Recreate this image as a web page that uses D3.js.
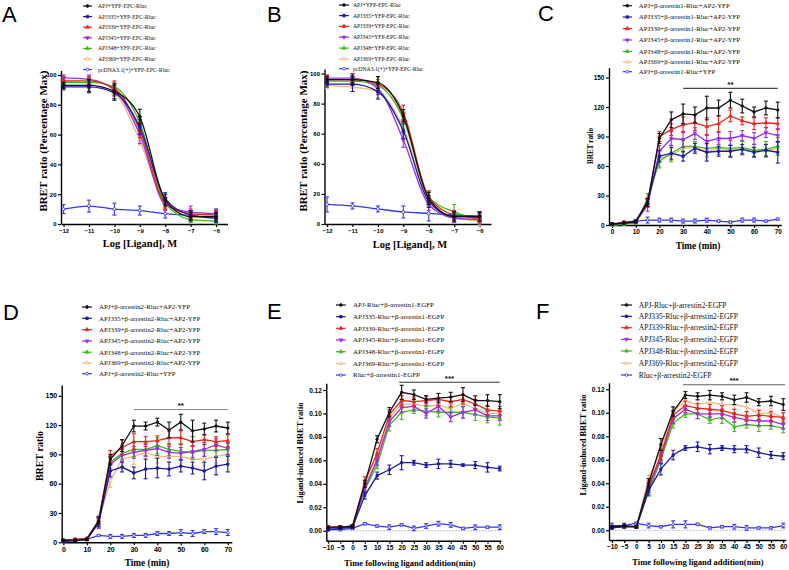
<!DOCTYPE html>
<html><head><meta charset="utf-8">
<script src="https://cdn.jsdelivr.net/npm/d3@7"></script>
<style>body{margin:0;background:#fff}svg{display:block}</style>
</head><body>
<svg id="c" width="789" height="570"></svg>
<script>
// ---------------- DATA ----------------
const seriesColors = ["#111111","#1c1ca0","#e8251f","#9a2ee6","#3dba20","#e9b883","#3535f5"];
const seriesShapes = ["circle","square","triangle","triangleDown","triangle","triangleOpen","circleOpen"];

const logLigand = [-12,-11,-10,-9,-8,-7,-6];
const timeCD = [0,5,10,15,20,25,30,35,40,45,50,55,60,65,70];
const timeEF = [-10,-5,0,5,10,15,20,25,30,35,40,45,50,55,60];

const legendA = ["APJ+YFP-EPC-Rluc","APJ335+YFP-EPC-Rluc","APJ339+YFP-EPC-Rluc","APJ345+YFP-EPC-Rluc","APJ348+YFP-EPC-Rluc","APJ369+YFP-EPC-Rluc","pcDNA3.1(+)+YFP-EPC-Rluc"];
const legendB = legendA.slice();
const legendC = ["APJ+β-arrestin1-Rluc+AP2-YFP","APJ335+β-arrestin1-Rluc+AP2-YFP","APJ339+β-arrestin1-Rluc+AP2-YFP","APJ345+β-arrestin1-Rluc+AP2-YFP","APJ348+β-arrestin1-Rluc+AP2-YFP","APJ369+β-arrestin1-Rluc+AP2-YFP","APJ+β-arrestin1-Rluc+YFP"];
const legendD = ["APJ+β-arrestin2-Rluc+AP2-YFP","APJ335+β-arrestin2-Rluc+AP2-YFP","APJ339+β-arrestin2-Rluc+AP2-YFP","APJ345+β-arrestin2-Rluc+AP2-YFP","APJ348+β-arrestin2-Rluc+AP2-YFP","APJ369+β-arrestin2-Rluc+AP2-YFP","APJ+β-arrestin2-Rluc+YFP"];
const legendE = ["APJ-Rluc+β-arrestin1-EGFP","APJ335-Rluc+β-arrestin1-EGFP","APJ339-Rluc+β-arrestin1-EGFP","APJ345-Rluc+β-arrestin1-EGFP","APJ348-Rluc+β-arrestin1-EGFP","APJ369-Rluc+β-arrestin1-EGFP","Rluc+β-arrestin1-EGFP"];
const legendF = ["APJ-Rluc+β-arrestin2-EGFP","APJ335-Rluc+β-arrestin2-EGFP","APJ339-Rluc+β-arrestin2-EGFP","APJ345-Rluc+β-arrestin2-EGFP","APJ348-Rluc+β-arrestin2-EGFP","APJ369-Rluc+β-arrestin2-EGFP","Rluc+β-arrestin2-EGFP"];

const valuesA = [
 [93,93,89,72,16,5,5],
 [92,92,88,65,17,6,4],
 [96,96,91,63,14,7,6],
 [98,97,90,60,13,8,7],
 [95,95,92,68,14,3,2],
 [96,94,88,56,14,5,4],
 [10,12,10,9,7,6,7]];
const errorsA = [
 [2,4,5,5,4,3,3],[2,4,5,5,4,3,3],[3,3,5,5,4,3,3],[2,3,4,6,4,4,3],[2,3,3,4,3,2,2],[2,3,4,3,3,3,3],[3,4,4,3,3,3,3]];

const valuesB = [
 [96,96,94,72,17,5,5],
 [93,93,88,62,15,5,5],
 [96,96,93,74,18,6,4],
 [97,97,90,56,13,4,3],
 [95,95,92,70,18,8,3],
 [92,91,88,64,16,4,2],
 [13,12,10,8,7,6,5]];
const errorsB = [
 [2,3,4,4,4,3,3],[2,5,5,5,4,3,3],[3,4,5,5,4,3,3],[2,3,4,5,4,3,3],[2,3,4,4,4,5,3],[2,3,4,4,4,3,3],[5,2,2,4,5,2,3]];

const valuesC = [
 [1,2,4,23,88,107,113,112,119,119,127,121,115,119,117],
 [1,2,3,24,70,73,70,78,74,75,75,77,74,76,74],
 [1,3,4,22,90,97,102,104,100,103,111,106,103,104,103],
 [1,2,3,20,75,88,87,93,85,88,88,91,88,94,91],
 [0,1,2,27,65,73,80,80,78,79,78,79,76,77,80],
 [0,1,2,24,68,71,78,79,75,78,76,78,76,76,78],
 [1,2,4,5,5,5,4,4,5,4,3,5,5,4,6]];
const errorsC = [
 [1,1,1,4,5,8,10,8,12,8,8,7,5,7,8],
 [1,1,1,3,6,6,5,5,9,5,6,5,5,6,11],
 [1,1,1,4,5,6,8,8,9,8,6,4,6,5,6],
 [1,1,1,6,6,7,8,6,7,6,7,5,6,5,7],
 [1,1,1,5,7,8,6,5,8,7,8,6,6,8,9],
 [1,1,1,5,8,7,9,6,7,6,6,7,6,6,7],
 [1,1,1,3,2,2,2,2,2,1,1,2,2,1,1]];

const valuesD = [
 [2,2,3,22,85,99,119,119,123,115,123,114,116,119,117],
 [1,2,3,20,73,77,71,75,76,75,78,76,73,78,80],
 [2,3,4,22,88,97,103,103,104,107,107,103,105,103,104],
 [1,2,3,20,80,89,92,94,96,92,91,93,95,100,96],
 [1,2,3,20,82,91,95,95,99,95,93,92,94,94,95],
 [1,2,2,22,63,85,88,92,88,88,88,85,85,88,90],
 [2,3,3,7,6,6,7,7,9,9,10,9,11,11,10]];
const errorsD = [
 [1,1,1,4,5,6,6,4,4,8,8,11,6,6,6],
 [1,1,1,4,6,5,6,10,10,7,6,6,9,9,8],
 [1,1,1,4,6,8,8,5,5,7,7,5,5,5,6],
 [1,1,1,6,7,6,6,6,7,6,6,6,7,6,6],
 [1,1,1,5,6,6,7,6,8,6,8,7,6,6,6],
 [1,1,1,6,7,8,8,6,7,6,7,6,6,7,6],
 [1,1,1,1,2,2,2,2,2,2,3,3,2,3,3]];

const valuesE = [
 [0.003,0.003,0.004,0.040,0.078,0.101,0.118,0.116,0.112,0.113,0.114,0.116,0.111,0.111,0.110],
 [0.001,0.002,0.003,0.030,0.047,0.052,0.058,0.058,0.056,0.057,0.057,0.056,0.056,0.054,0.053],
 [0.003,0.003,0.004,0.042,0.066,0.099,0.111,0.110,0.111,0.112,0.110,0.112,0.108,0.103,0.102],
 [0.002,0.003,0.004,0.036,0.060,0.093,0.105,0.106,0.100,0.106,0.097,0.101,0.103,0.098,0.098],
 [0.002,0.003,0.004,0.035,0.056,0.090,0.101,0.103,0.102,0.101,0.101,0.101,0.099,0.097,0.096],
 [0.003,0.003,0.004,0.038,0.062,0.096,0.108,0.108,0.106,0.107,0.104,0.109,0.104,0.100,0.100],
 [0.001,0.001,0.002,0.006,0.004,0.003,0.005,0.002,0.004,0.006,0.005,0.002,0.003,0.003,0.003]];
const errorsE = [
 [0.001,0.001,0.001,0.003,0.003,0.004,0.006,0.004,0.003,0.004,0.004,0.006,0.004,0.005,0.006],
 [0.001,0.001,0.001,0.003,0.003,0.004,0.006,0.002,0.002,0.004,0.003,0.001,0.003,0.004,0.002],
 [0.001,0.001,0.001,0.004,0.004,0.004,0.004,0.004,0.004,0.005,0.004,0.004,0.004,0.004,0.004],
 [0.001,0.001,0.001,0.004,0.004,0.004,0.004,0.004,0.004,0.004,0.004,0.005,0.004,0.004,0.004],
 [0.001,0.001,0.001,0.003,0.003,0.005,0.006,0.003,0.004,0.004,0.004,0.005,0.005,0.005,0.006],
 [0.001,0.001,0.001,0.004,0.004,0.004,0.004,0.004,0.004,0.004,0.004,0.004,0.004,0.004,0.004],
 [0.001,0.001,0.001,0.001,0.001,0.002,0.001,0.002,0.002,0.002,0.002,0.001,0.002,0.001,0.002]];

const valuesF = [
 [0.003,0.004,0.003,0.040,0.073,0.101,0.115,0.114,0.115,0.114,0.111,0.113,0.109,0.110,0.107],
 [0.002,0.003,0.003,0.034,0.052,0.064,0.070,0.071,0.069,0.070,0.069,0.069,0.066,0.064,0.063],
 [0.003,0.003,0.003,0.038,0.064,0.098,0.106,0.104,0.103,0.102,0.099,0.097,0.098,0.097,0.096],
 [0.003,0.003,0.003,0.036,0.062,0.095,0.103,0.099,0.099,0.099,0.096,0.094,0.093,0.093,0.090],
 [0.002,0.003,0.003,0.033,0.060,0.091,0.099,0.099,0.094,0.096,0.088,0.090,0.089,0.089,0.087],
 [0.002,0.003,0.003,0.044,0.068,0.102,0.110,0.107,0.109,0.107,0.107,0.105,0.099,0.100,0.096],
 [0.004,0.004,0.006,0.004,0.003,0.005,0.005,0.005,0.002,0.003,0.003,0.002,0.002,0.002,0.004]];
const errorsF = [
 [0.001,0.001,0.001,0.004,0.005,0.004,0.003,0.003,0.004,0.003,0.004,0.004,0.003,0.004,0.005],
 [0.001,0.001,0.001,0.004,0.005,0.004,0.002,0.004,0.004,0.002,0.003,0.003,0.004,0.003,0.003],
 [0.001,0.001,0.001,0.004,0.004,0.004,0.004,0.004,0.004,0.004,0.004,0.004,0.004,0.004,0.004],
 [0.001,0.001,0.001,0.004,0.004,0.004,0.003,0.004,0.003,0.004,0.004,0.004,0.004,0.004,0.004],
 [0.001,0.001,0.001,0.004,0.004,0.004,0.003,0.004,0.003,0.005,0.004,0.003,0.005,0.003,0.004],
 [0.001,0.001,0.001,0.003,0.004,0.003,0.003,0.004,0.004,0.004,0.004,0.004,0.004,0.004,0.004],
 [0.002,0.002,0.001,0.002,0.001,0.003,0.003,0.001,0.001,0.001,0.002,0.002,0.001,0.001,0.002]];

const ticksLog = [-12,-11,-10,-9,-8,-7,-6];
const ticksPct = [0,20,40,60,80,100];
const ticksTimeCD = [0,10,20,30,40,50,60,70];
const ticksBretCD = [0,30,60,90,120,150];
const ticksTimeEF = [-10,-5,0,5,10,15,20,25,30,35,40,45,50,55,60];
const ticksBretEF = [0,0.02,0.04,0.06,0.08,0.10,0.12];

// ---------------- DRAWING ----------------
const svg = d3.select("#c");
const SERIF = "'Liberation Serif','Times New Roman',serif";
const SANS = "'Liberation Sans',Arial,sans-serif";

function marker(g, shape, cx, cy, color, s) {
  let sym, fill = color, rot = 0;
  if (shape === "circle") sym = d3.symbolCircle;
  else if (shape === "circleOpen") { sym = d3.symbolCircle; fill = "#fff"; }
  else if (shape === "square") sym = d3.symbolSquare;
  else if (shape === "triangle") sym = d3.symbolTriangle;
  else if (shape === "triangleDown") { sym = d3.symbolTriangle; rot = 180; }
  else if (shape === "triangleOpen") { sym = d3.symbolTriangle; fill = "#fff"; }
  g.append("path").attr("d", d3.symbol(sym, s)())
    .attr("transform", `translate(${cx},${cy}) rotate(${rot})`)
    .attr("fill", fill).attr("stroke", color).attr("stroke-width", 0.8);
}

function drawPanel(p) {
  const g = svg.append("g");
  const x = d3.scaleLinear().domain(p.xDomain).range(p.xRange);
  const y = d3.scaleLinear().domain(p.yDomain).range(p.yRange);

  if (p.zeroLine) {
    g.append("line").attr("x1", p.xRange[0]).attr("x2", p.xRange[1])
      .attr("y1", y(0)).attr("y2", y(0))
      .attr("stroke", "#aaa").attr("stroke-width", 1).attr("stroke-dasharray", "1.5,1.5");
  }

  const xa = g.append("g").attr("transform", `translate(0,${p.yRange[0]})`)
    .call(d3.axisBottom(x).tickValues(p.xTicks).tickFormat(p.xFmt).tickSize(3).tickSizeOuter(0).tickPadding(1.5));
  const ya = g.append("g").attr("transform", `translate(${p.xRange[0]},0)`)
    .call(d3.axisLeft(y).tickValues(p.yTicks).tickFormat(p.yFmt).tickSize(3).tickSizeOuter(0).tickPadding(1.5));
  [xa, ya].forEach(a => {
    a.select(".domain").attr("stroke", "#000").attr("stroke-width", 1.4);
    a.selectAll(".tick line").attr("stroke", "#000").attr("stroke-width", 1.2);
    a.selectAll(".tick text").attr("font-family", SANS).attr("font-weight", "bold")
      .attr("font-size", p.tickFont).attr("fill", "#000");
  });

  const order = [6,5,4,3,2,1,0];
  order.forEach(i => {
    const vals = p.values[i], errs = p.errors[i], col = seriesColors[i];
    const line = d3.line().x((d, j) => x(p.xs[j])).y(d => y(d)).curve(p.curve);
    g.append("path").attr("d", line(vals)).attr("fill", "none")
      .attr("stroke", col).attr("stroke-width", 1.3);
    vals.forEach((v, j) => {
      const cx = x(p.xs[j]);
      const y1 = y(v - errs[j]), y2 = y(v + errs[j]);
      g.append("line").attr("x1", cx).attr("x2", cx).attr("y1", y1).attr("y2", y2)
        .attr("stroke", col).attr("stroke-width", 1.1);
      [y1, y2].forEach(yy => g.append("line").attr("x1", cx - 2).attr("x2", cx + 2)
        .attr("y1", yy).attr("y2", yy).attr("stroke", col).attr("stroke-width", 1.1));
      marker(g, seriesShapes[i], cx, y(v), col, p.markerSize);
    });
  });

  p.legend.forEach((t, i) => {
    const ly = p.legendY[i];
    g.append("line").attr("x1", p.legendX[0]).attr("x2", p.legendX[1])
      .attr("y1", ly).attr("y2", ly).attr("stroke", seriesColors[i]).attr("stroke-width", 1.2);
    marker(g, seriesShapes[i], (p.legendX[0] + p.legendX[1]) / 2, ly, seriesColors[i], 6);
    g.append("text").attr("x", p.legendX[2]).attr("y", ly).attr("dy", "0.35em")
      .attr("font-family", SERIF).attr("font-size", p.legendFont).attr("fill", "#111").text(t);
  });

  if (p.sig) {
    g.append("line").attr("x1", x(p.sig.x0)).attr("x2", x(p.sig.x1))
      .attr("y1", y(p.sig.y)).attr("y2", y(p.sig.y))
      .attr("stroke", p.sig.color).attr("stroke-width", 1.1);
    g.append("text").attr("x", (x(p.sig.x0) + x(p.sig.x1)) / 2).attr("y", y(p.sig.y) - 1.5)
      .attr("text-anchor", "middle").attr("font-family", SANS).attr("font-weight", "bold")
      .attr("font-size", 8).text(p.sig.label);
  }

  g.append("text").attr("x", p.xTitle[1]).attr("y", p.xTitle[2]).attr("text-anchor", "middle")
    .attr("dy", "0.35em").attr("font-family", SERIF).attr("font-weight", "bold")
    .attr("font-size", p.xTitle[3]).text(p.xTitle[0]);
  g.append("text").attr("transform", `translate(${p.yTitle[1]},${p.yTitle[2]}) rotate(-90)`)
    .attr("text-anchor", "middle").attr("dy", "0.35em").attr("font-family", SERIF)
    .attr("font-weight", "bold").attr("font-size", p.yTitle[3]).text(p.yTitle[0]);

  svg.append("text").attr("x", p.letter[1]).attr("y", p.letter[2])
    .attr("font-family", SANS).attr("font-size", 22).text(p.letter[0]);
}

const fmtInt = d3.format("d");
const fmt2 = d3.format(".2f");

drawPanel({
  letter: ["A", 2, 22], xs: logLigand, values: valuesA, errors: errorsA, legend: legendA,
  xDomain: [-12.1, -5.55], xRange: [61, 227.5], yDomain: [0, 103], yRange: [224, 70.5],
  xTicks: ticksLog, yTicks: ticksPct, xFmt: fmtInt, yFmt: fmtInt, tickFont: 6,
  curve: d3.curveMonotoneX, markerSize: 7,
  legendX: [83, 92, 98], legendY: [6, 16.6, 27.2, 37.8, 48.4, 59, 69.5], legendFont: 5.8,
  xTitle: ["Log [Ligand], M", 140, 243, 10.5], yTitle: ["BRET ratio (Percentage Max)", 43, 141, 11]
});
drawPanel({
  letter: ["B", 267, 21.5], xs: logLigand, values: valuesB, errors: errorsB, legend: legendB,
  xDomain: [-12.1, -5.55], xRange: [324.5, 491], yDomain: [0, 103], yRange: [224, 69],
  xTicks: ticksLog, yTicks: ticksPct, xFmt: fmtInt, yFmt: fmtInt, tickFont: 6,
  curve: d3.curveMonotoneX, markerSize: 7,
  legendX: [339, 349, 353], legendY: [5, 15.6, 26.3, 37.2, 48.1, 59, 68.7], legendFont: 5.7,
  xTitle: ["Log [Ligand], M", 410, 244, 10.5], yTitle: ["BRET ratio (Percentage Max)", 303, 141, 11]
});
drawPanel({
  letter: ["C", 538, 21], xs: timeCD, values: valuesC, errors: errorsC, legend: legendC,
  xDomain: [-1.3, 71.5], xRange: [609, 781.3], yDomain: [0, 160], yRange: [225, 67.7],
  xTicks: ticksTimeCD, yTicks: ticksBretCD, xFmt: fmtInt, yFmt: fmtInt, tickFont: 6.5,
  curve: d3.curveLinear, markerSize: 5,
  legendX: [622.7, 632, 638.7], legendY: [5.7, 17, 28.6, 40, 51.4, 62, 71.7], legendFont: 6.85,
  sig: { x0: 30, x1: 70, y: 139, color: "#444", label: "**" },
  xTitle: ["Time (min)", 698, 246, 9.3], yTitle: ["BRET ratio", 590, 146, 7.2]
});
drawPanel({
  letter: ["D", 3, 320], xs: timeCD, values: valuesD, errors: errorsD, legend: legendD,
  xDomain: [-0.7, 71.7], xRange: [61.7, 231.8], yDomain: [0, 161], yRange: [542.3, 385],
  xTicks: ticksTimeCD, yTicks: ticksBretCD, xFmt: fmtInt, yFmt: fmtInt, tickFont: 7,
  curve: d3.curveLinear, markerSize: 5,
  legendX: [82, 92, 99], legendY: [307, 318.3, 329.6, 341, 352.2, 363, 373.7], legendFont: 6.85,
  sig: { x0: 30, x1: 70, y: 136, color: "#888", label: "**" },
  xTitle: ["Time (min)", 147, 563, 9.3], yTitle: ["BRET ratio", 39, 456, 10]
});
drawPanel({
  letter: ["E", 267, 318.5], xs: timeEF, values: valuesE, errors: errorsE, legend: legendE,
  xDomain: [-10.7, 60.5], xRange: [326.3, 501], yDomain: [-0.0085, 0.1257], yRange: [540.7, 383.3],
  xTicks: ticksTimeEF, yTicks: ticksBretEF, xFmt: fmtInt, yFmt: fmt2, tickFont: 6.5,
  curve: d3.curveLinear, markerSize: 5, zeroLine: true,
  legendX: [336, 345.7, 353], legendY: [305, 316.7, 328.3, 340, 351.7, 363.5, 375], legendFont: 7,
  sig: { x0: 19, x1: 60, y: 0.1266, color: "#333", label: "***" },
  xTitle: ["Time following ligand addition(min)", 410, 562.7, 8.5], yTitle: ["Ligand-induced BRET ratio", 300, 453, 8.4]
});
drawPanel({
  letter: ["F", 536, 318.5], xs: timeEF, values: valuesF, errors: errorsF, legend: legendF,
  xDomain: [-11.2, 61], xRange: [609, 785.7], yDomain: [-0.0083, 0.1255], yRange: [540, 382.8],
  xTicks: ticksTimeEF, yTicks: ticksBretEF, xFmt: fmtInt, yFmt: fmt2, tickFont: 6.5,
  curve: d3.curveLinear, markerSize: 5, zeroLine: true,
  legendX: [621, 632, 638.7], legendY: [305, 316.3, 327.7, 339.3, 351, 363.2, 375], legendFont: 7.6,
  sig: { x0: 19, x1: 60.8, y: 0.1238, color: "#666", label: "***" },
  xTitle: ["Time following ligand addition(min)", 698, 562.3, 8.5], yTitle: ["Ligand-induced BRET ratio", 583, 445, 8.4]
});
</script>
</body></html>
